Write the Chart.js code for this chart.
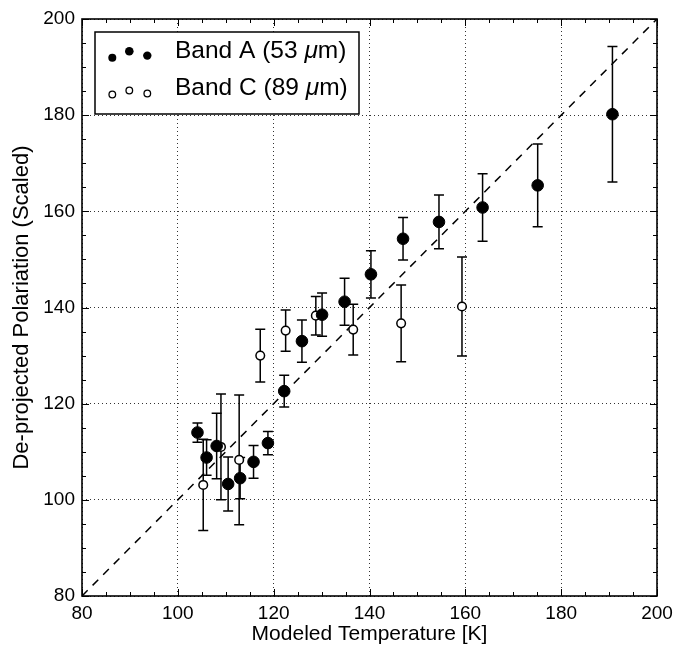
<!DOCTYPE html>
<html><head><meta charset="utf-8">
<script src="https://cdn.jsdelivr.net/npm/chart.js@4/dist/chart.umd.min.js"></script>
<style>html,body{margin:0;padding:0;background:#fff}#wrap{width:673px;height:650px;position:relative}</style>
</head><body><div id="wrap"><canvas id="c" width="673" height="650"></canvas></div>
<script>
// ---- data ----
const bandATemp = [104.1, 106.0, 108.1, 110.5, 113.0, 115.8, 118.8, 122.2, 125.9, 130.1, 134.8, 140.3, 147.0, 154.5, 163.6, 175.1, 190.7];
const bandAPol  = [114.0, 108.8, 111.2, 103.3, 104.5, 107.9, 111.8, 122.6, 133.0, 138.5, 141.2, 146.9, 154.3, 157.8, 160.8, 165.4, 180.2];
const bandAErr  = [2.0, 3.7, 6.8, 5.6, 4.3, 3.4, 2.4, 3.3, 4.4, 4.5, 4.9, 4.9, 4.4, 5.6, 7.0, 8.6, 14.1];
const bandCTemp = [105.3, 109.0, 112.8, 117.2, 122.5, 128.8, 136.6, 146.6, 159.3];
const bandCPol  = [103.1, 111.0, 108.3, 130.0, 135.2, 138.3, 135.4, 136.7, 140.2];
const bandCErr  = [9.5, 11.0, 13.5, 5.5, 4.3, 4.0, 5.3, 8.0, 10.3];
const oneToOne  = [80, 200];
const xTickValues = [80, 100, 120, 140, 160, 180, 200];
const yTickValues = [80, 100, 120, 140, 160, 180, 200];
const legendLabels = [['Band A (53 ', 'μ', 'm)'], ['Band C (89 ', 'μ', 'm)']];
const xTitle = 'Modeled Temperature [K]';
const yTitle = 'De-projected Polariation (Scaled)';

const FONT = "'Liberation Sans', Arial, Helvetica, sans-serif";
const toPts = (xs, ys) => xs.map((x, i) => ({x: x, y: ys[i]}));

const errorBars = {
  id: 'errorBars',
  beforeDatasetsDraw(chart) {
    const {ctx, scales: {x, y}} = chart;
    ctx.save();
    ctx.strokeStyle = '#000';
    ctx.lineWidth = 1.5;
    const draw = (xs, ys, es) => {
      xs.forEach((t, i) => {
        const px = x.getPixelForValue(t);
        const top = y.getPixelForValue(ys[i] + es[i]);
        const bot = y.getPixelForValue(ys[i] - es[i]);
        ctx.beginPath();
        ctx.moveTo(px, top); ctx.lineTo(px, bot);
        ctx.moveTo(px - 5, top); ctx.lineTo(px + 5, top);
        ctx.moveTo(px - 5, bot); ctx.lineTo(px + 5, bot);
        ctx.stroke();
      });
    };
    draw(bandATemp, bandAPol, bandAErr);
    draw(bandCTemp, bandCPol, bandCErr);
    ctx.restore();
  }
};

const frameAndLegend = {
  id: 'frameAndLegend',
  afterDraw(chart) {
    const {ctx, chartArea: a, scales: {x, y}} = chart;
    ctx.save();
    ctx.strokeStyle = '#000';
    // ticks inward on all sides
    ctx.lineWidth = 1;
    ctx.beginPath();
    for (let v = 80; v <= 200; v += 5) {
      const major = v % 20 === 0;
      const L = major ? 7 : 4;
      const px = Math.round(x.getPixelForValue(v)) + 0.5;
      ctx.moveTo(px, a.bottom); ctx.lineTo(px, a.bottom - L);
      ctx.moveTo(px, a.top); ctx.lineTo(px, a.top + L);
      const py = Math.round(y.getPixelForValue(v)) + 0.5;
      ctx.moveTo(a.left, py); ctx.lineTo(a.left + L, py);
      ctx.moveTo(a.right, py); ctx.lineTo(a.right - L, py);
    }
    ctx.stroke();
    // frame
    ctx.lineWidth = 1.6;
    ctx.strokeRect(a.left, a.top, a.right - a.left, a.bottom - a.top);

    // legend
    const bx = a.left + 13, by = a.top + 13, bw = 264, bh = 82;
    ctx.fillStyle = '#fff';
    ctx.fillRect(bx, by, bw, bh);
    ctx.lineWidth = 1.5;
    ctx.strokeRect(bx, by, bw, bh);
    const rows = [
      {y: by + 26.3, filled: true, dots: [[bx + 17.3, -0.5, 4.0], [bx + 34.3, -7, 4.3], [bx + 52.3, -2.7, 4.2]]},
      {y: by + 63, filled: false, dots: [[bx + 17.3, -0.5, 3.3], [bx + 34.3, -4.5, 3.3], [bx + 52.3, -1.5, 3.3]]}
    ];
    rows.forEach((r, i) => {
      r.dots.forEach(d => {
        ctx.beginPath();
        ctx.arc(d[0], r.y + d[1], d[2], 0, Math.PI * 2);
        if (r.filled) { ctx.fillStyle = '#000'; ctx.fill(); }
        else { ctx.fillStyle = '#fff'; ctx.fill(); ctx.lineWidth = 1.3; ctx.stroke(); }
      });
      ctx.fillStyle = '#000';
      ctx.textBaseline = 'alphabetic';
      ctx.textAlign = 'left';
      let tx = bx + 80;
      const parts = legendLabels[i];
      ctx.font = '24.5px ' + FONT;
      ctx.fillText(parts[0], tx, r.y); tx += ctx.measureText(parts[0]).width;
      ctx.font = 'italic 24.5px ' + FONT;
      ctx.fillText(parts[1], tx, r.y); tx += ctx.measureText(parts[1]).width;
      ctx.font = '24.5px ' + FONT;
      ctx.fillText(parts[2], tx, r.y);
    });
    ctx.restore();
  }
};

new Chart(document.getElementById('c'), {
  type: 'scatter',
  data: {
    datasets: [
      {
        type: 'line',
        data: toPts(oneToOne, oneToOne),
        borderColor: '#000', borderWidth: 1.5, borderDash: [8, 7],
        pointRadius: 0, fill: false, order: 3
      },
      {
        label: 'Band A (53 μm)',
        data: toPts(bandATemp, bandAPol),
        backgroundColor: '#000', borderColor: '#000', borderWidth: 1,
        pointRadius: 5.8, pointHoverRadius: 5.8, order: 1
      },
      {
        label: 'Band C (89 μm)',
        data: toPts(bandCTemp, bandCPol),
        backgroundColor: '#fff', borderColor: '#000', borderWidth: 1.5,
        pointRadius: 4.3, pointHoverRadius: 4.3, order: 2
      }
    ]
  },
  options: {
    responsive: false, animation: false, devicePixelRatio: 1,
    layout: {padding: {top: 19, right: 16, left: 0, bottom: 0}},
    plugins: {legend: {display: false}, tooltip: {enabled: false}},
    scales: {
      x: {
        type: 'linear', min: 80, max: 200,
        afterBuildTicks: s => { s.ticks = xTickValues.map(v => ({value: v})); },
        afterFit: s => { s.height = 54; s.paddingRight = 0; s.paddingLeft = 0; },
        ticks: {color: '#000', font: {family: FONT, size: 19}, padding: 6, maxRotation: 0},
        grid: {color: '#333', lineWidth: 1, drawTicks: false},
        border: {display: false, dash: [1, 3]},
        title: {display: true, text: xTitle, color: '#000', font: {family: FONT, size: 21}, padding: {top: 0, bottom: 3}}
      },
      y: {
        type: 'linear', min: 80, max: 200,
        afterBuildTicks: s => { s.ticks = yTickValues.map(v => ({value: v})); },
        afterFit: s => { s.width = 82; s.paddingTop = 0; s.paddingBottom = 0; },
        ticks: {color: '#000', font: {family: FONT, size: 19}, padding: 7},
        grid: {color: '#333', lineWidth: 1, drawTicks: false},
        border: {display: false, dash: [1, 3]},
        title: {display: true, text: yTitle, color: '#000', font: {family: FONT, size: 22}, padding: {top: 9, bottom: 0}}
      }
    }
  },
  plugins: [errorBars, frameAndLegend]
});
</script>
</body></html>
